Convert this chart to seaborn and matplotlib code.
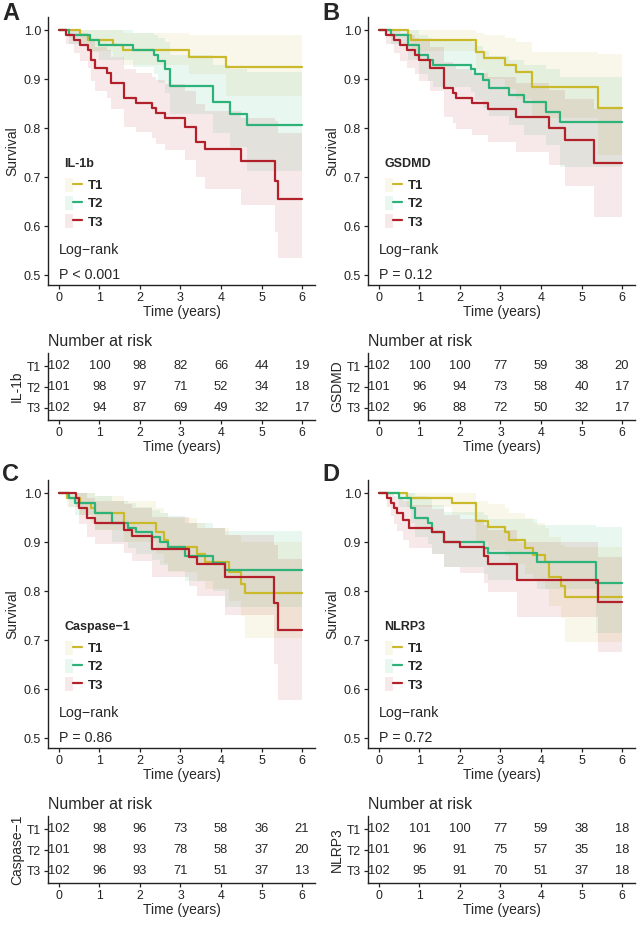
import matplotlib
matplotlib.use("Agg")
import matplotlib.pyplot as plt
import seaborn as sns
import pandas as pd
from matplotlib.lines import Line2D
from matplotlib.patches import Patch
from matplotlib.legend_handler import HandlerTuple

sns.set_style("ticks")
plt.rcParams['font.family'] = ['Liberation Sans', 'DejaVu Sans']

groups = ['T1', 'T2', 'T3']
colors = ['#C9B92B', '#2DB37A', '#B2202A']
risk_times = [0, 1, 2, 3, 4, 5, 6]
follow_up = 6.0

## A: IL-1b
il1b_t1_time = [0, 0.51, 0.72, 1.33, 1.58, 3.21, 4.12]
il1b_t1_surv = [1.0, 0.99, 0.98, 0.97, 0.96, 0.945, 0.925]
il1b_t1_lo = [1.0, 0.973, 0.958, 0.945, 0.93, 0.91, 0.866]
il1b_t1_hi = [1.0, 1.0, 1.0, 1.0, 0.995, 0.99, 0.99]
il1b_t2_time = [0, 0.26, 0.76, 1.0, 1.83, 2.34, 2.44, 2.63, 2.73, 3.80, 4.21, 4.63]
il1b_t2_surv = [1.0, 0.99, 0.98, 0.97, 0.96, 0.95, 0.937, 0.92, 0.886, 0.853, 0.83, 0.806]
il1b_t2_lo = [1.0, 0.971, 0.955, 0.94, 0.925, 0.91, 0.893, 0.872, 0.83, 0.79, 0.762, 0.713]
il1b_t2_hi = [1.0, 1.0, 1.0, 1.0, 0.995, 0.99, 0.985, 0.975, 0.95, 0.93, 0.92, 0.914]
il1b_t3_time = [0, 0.18, 0.36, 0.51, 0.72, 0.8, 0.9, 1.19, 1.29, 1.6, 1.89, 2.3, 2.4, 2.61,
                3.1, 3.39, 3.6, 4.5, 5.33, 5.41]
il1b_t3_surv = [1.0, 0.99, 0.98, 0.97, 0.96, 0.94, 0.922, 0.912, 0.893, 0.862, 0.852, 0.842,
                0.832, 0.82, 0.803, 0.772, 0.757, 0.733, 0.693, 0.656]
il1b_t3_lo = [1.0, 0.971, 0.953, 0.937, 0.923, 0.897, 0.875, 0.862, 0.84, 0.803, 0.792, 0.78,
              0.768, 0.755, 0.735, 0.7, 0.675, 0.643, 0.588, 0.535]
il1b_t3_hi = [1.0, 1.0, 1.0, 0.995, 0.99, 0.98, 0.965, 0.96, 0.945, 0.92, 0.912, 0.905,
              0.898, 0.89, 0.875, 0.85, 0.835, 0.82, 0.815, 0.79]
il1b_risk_t1 = [102, 100, 98, 82, 66, 44, 19]
il1b_risk_t2 = [101, 98, 97, 71, 52, 34, 18]
il1b_risk_t3 = [102, 94, 87, 69, 49, 32, 17]

## B: GSDMD
gsdmd_t1_time = [0, 0.72, 0.8, 2.39, 2.6, 3.1, 3.39, 3.79, 5.41]
gsdmd_t1_surv = [1.0, 0.99, 0.98, 0.955, 0.943, 0.929, 0.914, 0.884, 0.842]
gsdmd_t1_lo = [1.0, 0.973, 0.958, 0.918, 0.9, 0.88, 0.86, 0.82, 0.745]
gsdmd_t1_hi = [1.0, 1.0, 1.0, 0.995, 0.99, 0.985, 0.975, 0.955, 0.952]
gsdmd_t2_time = [0, 0.29, 0.72, 0.98, 1.21, 1.33, 2.28, 2.36, 2.57, 2.72, 3.21, 3.57, 4.12, 4.46]
gsdmd_t2_surv = [1.0, 0.99, 0.97, 0.95, 0.94, 0.93, 0.92, 0.91, 0.898, 0.883, 0.867, 0.853,
                 0.833, 0.812]
gsdmd_t2_lo = [1.0, 0.971, 0.94, 0.91, 0.897, 0.885, 0.873, 0.858, 0.842, 0.825, 0.806,
               0.787, 0.765, 0.72]
gsdmd_t2_hi = [1.0, 1.0, 1.0, 0.99, 0.985, 0.98, 0.975, 0.968, 0.958, 0.948, 0.94, 0.93,
               0.92, 0.905]
gsdmd_t3_time = [0, 0.18, 0.36, 0.51, 0.69, 0.88, 1.0, 1.25, 1.6, 1.83, 1.9, 2.3, 2.69, 3.39,
                 4.2, 4.6, 5.3]
gsdmd_t3_surv = [1.0, 0.99, 0.98, 0.97, 0.96, 0.95, 0.94, 0.922, 0.883, 0.872, 0.862, 0.852,
                 0.84, 0.823, 0.8, 0.775, 0.73]
gsdmd_t3_lo = [1.0, 0.971, 0.953, 0.937, 0.923, 0.91, 0.897, 0.875, 0.822, 0.81, 0.798,
               0.786, 0.772, 0.752, 0.725, 0.683, 0.618]
gsdmd_t3_hi = [1.0, 1.0, 1.0, 0.995, 0.99, 0.985, 0.98, 0.965, 0.935, 0.928, 0.92, 0.913,
               0.905, 0.893, 0.877, 0.86, 0.84]
gsdmd_risk_t1 = [102, 100, 100, 77, 59, 38, 20]
gsdmd_risk_t2 = [101, 96, 94, 73, 58, 40, 17]
gsdmd_risk_t3 = [102, 96, 88, 72, 50, 32, 17]

## C: Caspase-1
casp_t1_time = [0, 0.2, 0.53, 0.8, 0.9, 1.6, 2.4, 2.6, 2.7, 3.4, 3.6, 4.2, 4.5, 4.6]
casp_t1_surv = [1.0, 0.99, 0.98, 0.97, 0.96, 0.94, 0.92, 0.905, 0.89, 0.875, 0.86, 0.84,
                0.815, 0.796]
casp_t1_lo = [1.0, 0.971, 0.955, 0.94, 0.925, 0.9, 0.875, 0.857, 0.84, 0.82, 0.805, 0.78,
              0.75, 0.705]
casp_t1_hi = [1.0, 1.0, 1.0, 1.0, 0.995, 0.985, 0.97, 0.96, 0.95, 0.94, 0.93, 0.915, 0.9, 0.9]
casp_t2_time = [0, 0.25, 0.4, 0.9, 1.3, 1.7, 1.9, 2.3, 2.5, 2.7, 3.1, 3.8, 4.1]
casp_t2_surv = [1.0, 0.99, 0.98, 0.96, 0.94, 0.93, 0.92, 0.91, 0.9, 0.89, 0.872, 0.857, 0.843]
casp_t2_lo = [1.0, 0.971, 0.955, 0.925, 0.9, 0.888, 0.876, 0.864, 0.853, 0.842, 0.82, 0.8,
              0.768]
casp_t2_hi = [1.0, 1.0, 1.0, 0.995, 0.985, 0.98, 0.972, 0.966, 0.96, 0.953, 0.94, 0.93, 0.922]
casp_t3_time = [0, 0.43, 0.5, 0.7, 0.9, 1.6, 1.8, 2.3, 3.2, 3.4, 4.1, 5.3, 5.4]
casp_t3_surv = [1.0, 0.99, 0.97, 0.95, 0.94, 0.925, 0.912, 0.886, 0.87, 0.855, 0.83, 0.775,
                0.72]
casp_t3_lo = [1.0, 0.971, 0.938, 0.91, 0.897, 0.877, 0.862, 0.83, 0.81, 0.79, 0.751, 0.652,
              0.577]
casp_t3_hi = [1.0, 1.0, 1.0, 0.99, 0.985, 0.978, 0.97, 0.952, 0.94, 0.93, 0.915, 0.895, 0.865]
casp_risk_t1 = [102, 98, 96, 73, 58, 36, 21]
casp_risk_t2 = [101, 98, 93, 78, 58, 37, 20]
casp_risk_t3 = [102, 96, 93, 71, 51, 37, 13]

## D: NLRP3
nlrp3_t1_time = [0, 0.7, 1.8, 2.4, 2.7, 3.1, 3.2, 3.6, 3.8, 4.1, 4.2, 4.5, 4.6]
nlrp3_t1_surv = [1.0, 0.99, 0.98, 0.943, 0.932, 0.92, 0.904, 0.888, 0.874, 0.86, 0.83, 0.81,
                 0.789]
nlrp3_t1_lo = [1.0, 0.971, 0.955, 0.9, 0.885, 0.872, 0.855, 0.836, 0.82, 0.805, 0.77, 0.745,
               0.697]
nlrp3_t1_hi = [1.0, 1.0, 1.0, 0.985, 0.978, 0.97, 0.96, 0.95, 0.94, 0.93, 0.91, 0.895, 0.89]
nlrp3_t2_time = [0, 0.5, 0.8, 0.9, 1.2, 1.3, 1.6, 2.6, 2.7, 3.9, 5.35]
nlrp3_t2_surv = [1.0, 0.99, 0.97, 0.95, 0.94, 0.92, 0.9, 0.888, 0.877, 0.86, 0.817]
nlrp3_t2_lo = [1.0, 0.971, 0.94, 0.91, 0.897, 0.875, 0.85, 0.836, 0.823, 0.805, 0.715]
nlrp3_t2_hi = [1.0, 1.0, 1.0, 0.995, 0.99, 0.975, 0.962, 0.955, 0.948, 0.935, 0.932]
nlrp3_t3_time = [0, 0.2, 0.3, 0.36, 0.45, 0.6, 0.75, 1.3, 1.6, 2.0, 2.6, 2.7, 3.4, 5.4]
nlrp3_t3_surv = [1.0, 0.99, 0.98, 0.97, 0.96, 0.945, 0.93, 0.92, 0.9, 0.89, 0.872, 0.855,
                 0.822, 0.779]
nlrp3_t3_lo = [1.0, 0.971, 0.953, 0.937, 0.923, 0.905, 0.888, 0.875, 0.85, 0.838, 0.817,
               0.798, 0.748, 0.676]
nlrp3_t3_hi = [1.0, 1.0, 1.0, 0.995, 0.99, 0.985, 0.975, 0.968, 0.955, 0.948, 0.935, 0.925,
               0.9, 0.87]
nlrp3_risk_t1 = [102, 101, 100, 77, 59, 38, 18]
nlrp3_risk_t2 = [101, 96, 91, 75, 57, 35, 18]
nlrp3_risk_t3 = [102, 95, 91, 70, 51, 37, 18]

panels = [
    ('A', 'IL-1b', 'P < 0.001',
     [(il1b_t1_time, il1b_t1_surv, il1b_t1_lo, il1b_t1_hi),
      (il1b_t2_time, il1b_t2_surv, il1b_t2_lo, il1b_t2_hi),
      (il1b_t3_time, il1b_t3_surv, il1b_t3_lo, il1b_t3_hi)],
     [il1b_risk_t1, il1b_risk_t2, il1b_risk_t3]),
    ('B', 'GSDMD', 'P = 0.12',
     [(gsdmd_t1_time, gsdmd_t1_surv, gsdmd_t1_lo, gsdmd_t1_hi),
      (gsdmd_t2_time, gsdmd_t2_surv, gsdmd_t2_lo, gsdmd_t2_hi),
      (gsdmd_t3_time, gsdmd_t3_surv, gsdmd_t3_lo, gsdmd_t3_hi)],
     [gsdmd_risk_t1, gsdmd_risk_t2, gsdmd_risk_t3]),
    ('C', 'Caspase\u22121', 'P = 0.86',
     [(casp_t1_time, casp_t1_surv, casp_t1_lo, casp_t1_hi),
      (casp_t2_time, casp_t2_surv, casp_t2_lo, casp_t2_hi),
      (casp_t3_time, casp_t3_surv, casp_t3_lo, casp_t3_hi)],
     [casp_risk_t1, casp_risk_t2, casp_risk_t3]),
    ('D', 'NLRP3', 'P = 0.72',
     [(nlrp3_t1_time, nlrp3_t1_surv, nlrp3_t1_lo, nlrp3_t1_hi),
      (nlrp3_t2_time, nlrp3_t2_surv, nlrp3_t2_lo, nlrp3_t2_hi),
      (nlrp3_t3_time, nlrp3_t3_surv, nlrp3_t3_lo, nlrp3_t3_hi)],
     [nlrp3_risk_t1, nlrp3_risk_t2, nlrp3_risk_t3]),
]

W, H = 642, 926
fig = plt.figure(figsize=(W / 100, H / 100), dpi=100)

def px_axes(left, top, right, bottom):
    return fig.add_axes([left / W, 1 - bottom / H, (right - left) / W, (bottom - top) / H])

XLIM = (-0.27, 6.32)
axis_color = '#222222'

def style_axis(ax, labelsize=9):
    sns.despine(ax=ax)
    for s in ['left', 'bottom']:
        ax.spines[s].set_linewidth(1.0)
        ax.spines[s].set_color(axis_color)
    ax.tick_params(length=3, width=0.9, color=axis_color, labelsize=labelsize, pad=2,
                   labelcolor='#222222')
    ax.set_facecolor('white')

lefts = [48, 368, 48, 368]
rights = [315, 635, 315, 635]
offsets = [0, 0, 463, 463]
letter_pos = [(2, 2), (322, 2), (2, 463), (322, 463)]

for i, (letter, name, ptext, curves, risks) in enumerate(panels):
    L, R, off = lefts[i], rights[i], offsets[i]
    ax = px_axes(L, 17 + off, R, 285 + off)
    for g, col, (t, s, lo, hi) in zip(groups, colors, curves):
        df = pd.DataFrame({'time': t + [follow_up], 'lo': lo + [lo[-1]], 'hi': hi + [hi[-1]]})
        ax.fill_between(df['time'], df['lo'], df['hi'], step='post', color=col,
                        alpha=0.1, linewidth=0)
    for g, col, (t, s, lo, hi) in zip(groups, colors, curves):
        df = pd.DataFrame({'time': t + [follow_up], 'surv': s + [s[-1]]})
        sns.lineplot(data=df, x='time', y='surv', ax=ax, color=col, linewidth=1.6,
                     drawstyle='steps-post', estimator=None, sort=False)
    ax.set_xlim(*XLIM)
    ax.set_ylim(0.48, 1.027)
    ax.set_xticks(risk_times)
    ax.set_yticks([0.5, 0.6, 0.7, 0.8, 0.9, 1.0])
    ax.set_yticklabels(['0.5', '0.6', '0.7', '0.8', '0.9', '1.0'])
    ax.set_xlabel('Time (years)', fontsize=10, labelpad=1)
    ax.set_ylabel('Survival', fontsize=10, labelpad=3)
    style_axis(ax)
    ax.text(0, 0.551, 'Log\u2212rank', fontsize=10.3, va='center', ha='left')
    ax.text(0, 0.50, ptext, fontsize=10.3, va='center', ha='left')

    handles = [(Patch(facecolor=col, alpha=0.1, linewidth=0),
                Line2D([], [], color=col, linewidth=1.6)) for col in colors]
    leg = ax.legend(handles, groups, handler_map={tuple: HandlerTuple(ndivide=None, pad=0)},
                    title=name, loc='upper left', bbox_to_anchor=(0.062, 0.475),
                    frameon=False, prop={'weight': 'bold', 'size': 9.5},
                    title_fontproperties={'weight': 'bold', 'size': 9},
                    handlelength=1.3, handleheight=1.2, labelspacing=0.3,
                    handletextpad=0.5, borderpad=0, borderaxespad=0)
    leg._legend_box.align = 'left'
    leg._legend_box.sep = 6

    # risk table
    rax = px_axes(L, 353 + off, R, 420 + off)
    for row, (g, counts) in enumerate(zip(groups, risks), start=1):
        for tt, n in zip(risk_times, counts):
            rax.text(tt, row, str(n), ha='center', va='center', fontsize=9.3)
    rax.set_xlim(*XLIM)
    rax.set_ylim(3.6, 0.35)
    rax.set_xticks(risk_times)
    rax.set_yticks([1, 2, 3])
    rax.set_yticklabels(groups)
    rax.set_xlabel('Time (years)', fontsize=10, labelpad=1)
    rax.set_ylabel(name, fontsize=10, labelpad=2)
    rax.set_title('Number at risk', loc='left', fontsize=11.5, pad=5)
    style_axis(rax, labelsize=8.8)

    fig.text(letter_pos[i][0] / W, 1 - letter_pos[i][1] / H, letter, fontsize=17,
             fontweight='bold', va='top', ha='left')

fig.savefig('out.png', dpi=100)
